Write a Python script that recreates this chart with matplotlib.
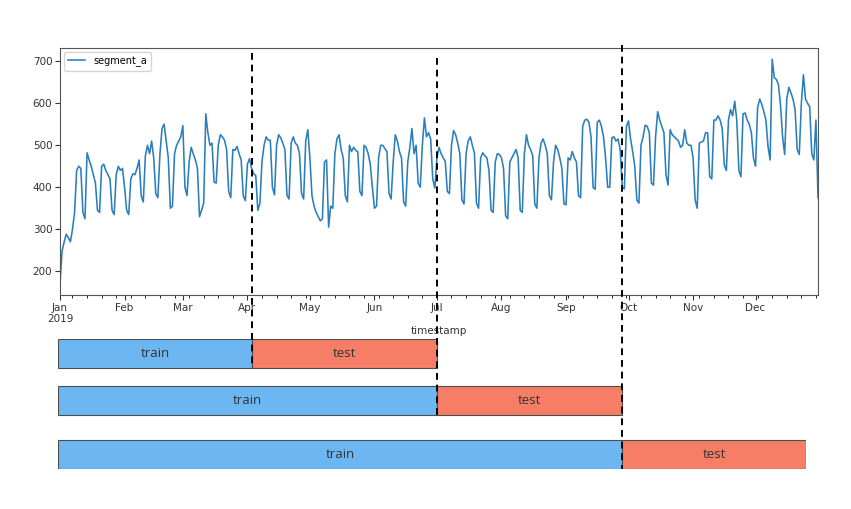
import numpy as np
import pandas as pd
import matplotlib
matplotlib.use("Agg")
import matplotlib.pyplot as plt
import matplotlib.dates as mdates
from matplotlib.lines import Line2D

plt.rcParams["font.size"] = 7.5

# segment_a, daily 2019: Jan 1-6 (Tue..Sun), then weeks Mon..Sun, then Dec 30-31
first_days = [170, 248, 270, 288, 280, 270]
weeks = [
    [300, 340, 440, 450, 445, 340, 325],
    [482, 465, 450, 430, 410, 345, 340],
    [450, 455, 440, 430, 420, 345, 335],
    [430, 450, 440, 445, 400, 345, 335],
    [420, 432, 430, 445, 465, 380, 365],
    [475, 500, 480, 510, 470, 385, 375],
    [480, 540, 550, 510, 470, 350, 355],
    [480, 500, 510, 520, 547, 400, 380],
    [460, 495, 480, 465, 445, 330, 345],
    [362, 575, 530, 500, 505, 412, 410],
    [500, 525, 520, 512, 490, 390, 375],
    [490, 488, 497, 480, 465, 380, 368],
    [455, 468, 445, 432, 428, 345, 362],
    [462, 500, 520, 512, 512, 400, 382],
    [500, 525, 518, 505, 490, 380, 372],
    [505, 520, 505, 500, 480, 385, 372],
    [510, 537, 470, 380, 355, 340, 330],
    [320, 325, 460, 465, 305, 355, 350],
    [480, 515, 525, 490, 470, 380, 365],
    [500, 485, 495, 488, 485, 390, 380],
    [500, 495, 480, 455, 400, 350, 355],
    [470, 500, 500, 492, 485, 385, 372],
    [460, 525, 510, 485, 470, 365, 355],
    [460, 495, 540, 480, 500, 410, 400],
    [500, 565, 520, 530, 515, 420, 398],
    [470, 495, 480, 470, 462, 390, 385],
    [500, 535, 525, 505, 480, 370, 360],
    [480, 510, 520, 500, 482, 362, 350],
    [470, 482, 475, 470, 440, 345, 340],
    [460, 480, 478, 470, 445, 332, 325],
    [460, 470, 480, 490, 470, 345, 340],
    [480, 525, 500, 490, 475, 360, 350],
    [470, 505, 515, 500, 480, 380, 370],
    [460, 500, 490, 470, 445, 360, 358],
    [470, 465, 485, 470, 460, 380, 375],
    [545, 560, 562, 555, 520, 400, 395],
    [555, 560, 545, 520, 470, 400, 400],
    [518, 520, 510, 515, 490, 400, 396],
    [545, 558, 515, 485, 450, 370, 362],
    [500, 520, 548, 545, 530, 410, 405],
    [520, 580, 560, 545, 530, 430, 405],
    [537, 525, 520, 515, 510, 495, 500],
    [537, 505, 500, 500, 470, 370, 350],
    [505, 508, 510, 530, 530, 425, 420],
    [560, 560, 570, 560, 540, 453, 440],
    [560, 585, 570, 605, 560, 440, 425],
    [575, 577, 560, 550, 530, 470, 450],
    [590, 610, 598, 580, 560, 497, 465],
    [705, 661, 657, 645, 595, 520, 478],
    [610, 638, 625, 610, 585, 490, 478],
    [600, 668, 610, 600, 592, 480, 465],
]
last_days = [560, 375]
values = first_days + [v for w in weeks for v in w] + last_days
dates = pd.date_range("2019-01-01", "2019-12-31", freq="D")

# where train ends, as fraction of the bar length
split_fracs = [0.26, 0.507, 0.754]
row_labels = ["train", "test"]

fig = plt.figure(figsize=(8.51, 5.09), dpi=100)
W, H = 851, 509

# main time series
ax = fig.add_axes([60 / W, 1 - 295 / H, 758 / W, 247 / H])
ax.plot(dates, values, color="#2a7fba", lw=1.15, label="segment_a")
ax.set_xlim(dates[0], dates[-1])
ax.set_yticks([200, 300, 400, 500, 600, 700])
ax.xaxis.set_major_locator(mdates.MonthLocator())
ax.xaxis.set_minor_locator(mdates.WeekdayLocator(byweekday=mdates.MO))


def month_fmt(x, pos):
    d = mdates.num2date(x)
    if d.month == 1:
        return d.strftime("%b\n%Y")
    return d.strftime("%b")


ax.xaxis.set_major_formatter(plt.FuncFormatter(month_fmt))
ax.tick_params(colors="#333333", labelsize=7.5, length=3.5, pad=2)
ax.tick_params(which="minor", length=2)
for s in ax.spines.values():
    s.set_color("#555555")
ax.set_xlabel("timestamp", fontsize=7.5, color="#333333", labelpad=1)
ax.legend(loc="upper left", fontsize=7, handlelength=1.8, borderaxespad=0.4)

# train / test bars
bx = fig.add_axes([58 / W, 1 - 469 / H, 748 / W, 130 / H])
bx.set_xlim(0, 1)
bx.set_ylim(130, 0)
bx.axis("off")
row_y = [14.5, 61.5, 115.5]
ends = split_fracs[1:] + [1.0]
for y, s, e in zip(row_y, split_fracs, ends):
    bx.barh(y, s, left=0, height=29, color="#6cb7f2", edgecolor="#4d4d4d", lw=0.8)
    bx.barh(y, e - s, left=s, height=29, color="#f67e67", edgecolor="#4d4d4d", lw=0.8)
    bx.text(s / 2, y, row_labels[0], ha="center", va="center",
            fontsize=9.5, family="Open Sans", color="#333333")
    bx.text((s + e) / 2, y, row_labels[1], ha="center", va="center",
            fontsize=9.5, family="Open Sans", color="#333333")

# dashed split markers over the whole figure
tops = [53, 58, 45]
bottoms = [368, 415, 469]
for f, t, b in zip(split_fracs, tops, bottoms):
    xf = (58 + f * 748) / W
    fig.add_artist(Line2D([xf, xf], [1 - t / H, 1 - b / H], transform=fig.transFigure,
                          color="black", lw=1.4, ls=(0, (3.5, 2.5)), zorder=10))

fig.savefig("out.png", dpi=100)
